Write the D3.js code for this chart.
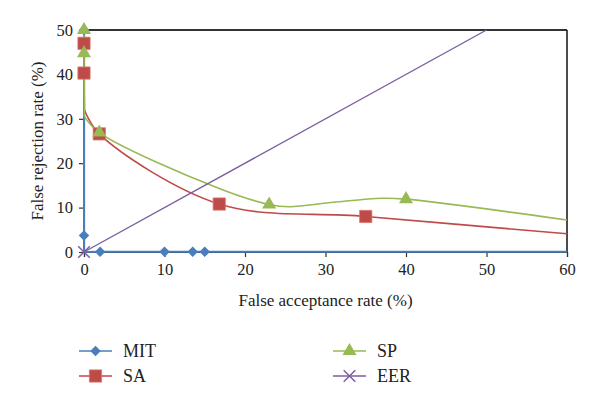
<!DOCTYPE html>
<html><head><meta charset="utf-8">
<script src="https://cdn.jsdelivr.net/npm/d3@7"></script>
<style>body{margin:0;background:#fff}svg{display:block}</style>
</head><body><svg id="c" width="600" height="405"></svg>
<script>
// ---- data ----
const xTicks = [0, 10, 20, 30, 40, 50, 60];
const yTicks = [0, 10, 20, 30, 40, 50];
const seriesNames = ["MIT", "SA", "SP", "EER"];

const mitX = [0, 0, 0, 2, 10, 13.5, 15, 60];
const mitY = [50, 3.7, 0, 0.05, 0.05, 0.05, 0.05, 0.05];
const mitMarked = [1, 1, 0, 1, 1, 1, 1, 0];

const saX = [0, 0, 0.05, 1.9, 16.8, 35, 60];
const saY = [47, 40.3, 32, 26.6, 10.8, 8.0, 4.1];
const saMarked = [1, 1, 0, 1, 1, 1, 0];

const spX = [0, 0, 0.05, 1.9, 16.8, 23, 25.5, 31, 37, 40, 60];
const spY = [50, 44.8, 30.5, 26.9, 14.3, 10.7, 10.2, 11.2, 12.1, 11.9, 7.2];
const spMarked = [1, 1, 0, 1, 0, 1, 0, 0, 0, 1, 0];

const eerX = [0, 50];
const eerY = [0, 50];
const eerMarked = [1, 0];

// ---- drawing ----
const svg = d3.select("#c");
const L = 84, R = 567, T = 30, B = 252;
const x = d3.scaleLinear().domain([0, 60]).range([L, R]);
const y = d3.scaleLinear().domain([0, 50]).range([B, T]);
const font = "'Liberation Serif', 'DejaVu Serif', serif";
const colors = {MIT: "#4a7ebb", SA: "#be4b48", SP: "#98b954", EER: "#7d5fa0"};

// frame top & right
svg.append("line").attr("x1", L).attr("x2", R).attr("y1", T).attr("y2", T).attr("stroke", "#333").attr("stroke-width", 2);
svg.append("line").attr("x1", R).attr("x2", R).attr("y1", T).attr("y2", B).attr("stroke", "#111").attr("stroke-width", 1.5);

// axes
const gx = svg.append("g").attr("transform", `translate(0,${B})`)
  .call(d3.axisBottom(x).tickValues(xTicks).tickSize(5).tickPadding(6));
const gy = svg.append("g").attr("transform", `translate(${L},0)`)
  .call(d3.axisLeft(y).tickValues(yTicks).tickSize(5).tickPadding(6));
[gx, gy].forEach(g => {
  g.select(".domain").attr("stroke", "#333").attr("stroke-width", 1.2);
  g.selectAll(".tick line").attr("stroke", "#333").attr("stroke-width", 1.2);
  g.selectAll(".tick text").attr("font-family", font).attr("font-size", 16.5).attr("fill", "#222");
});

svg.append("text").attr("x", (L + R) / 2).attr("y", 306).attr("text-anchor", "middle")
  .attr("font-family", font).attr("font-size", 17).attr("fill", "#222").text("False acceptance rate (%)");
svg.append("text").attr("transform", `translate(43,${(T + B) / 2}) rotate(-90)`).attr("text-anchor", "middle")
  .attr("font-family", font).attr("font-size", 17).attr("fill", "#222").text("False rejection rate (%)");

function pts(xs, ys, ms) { return xs.map((v, i) => ({x: v, y: ys[i], m: ms[i]})); }
const series = [
  {name: "MIT", data: pts(mitX, mitY, mitMarked), smooth: false, w: 2},
  {name: "SA", data: pts(saX, saY, saMarked), smooth: true, w: 1.6},
  {name: "SP", data: pts(spX, spY, spMarked), smooth: true, w: 1.6},
  {name: "EER", data: pts(eerX, eerY, eerMarked), smooth: false, w: 1.4}
];

const sym = {
  MIT: d3.symbol().type(d3.symbolDiamond2).size(70),
  SA: d3.symbol().type(d3.symbolSquare).size(150),
  SP: d3.symbol().type(d3.symbolTriangle).size(85),
  EER: d3.symbol().type(d3.symbolX).size(90)
};

const plot = svg.append("g");
const lin = d3.line().x(d => x(d.x)).y(d => y(d.y));
const smoothLine = d3.line().x(d => x(d.x)).y(d => y(d.y)).curve(d3.curveCatmullRom.alpha(0.5));
series.forEach(s => {
  if (s.smooth) {
    // vertical drop at x = 0 drawn straight, remaining part smoothed
    const split = s.data.findIndex(d => d.x > 0);
    const parts = [s.data.slice(0, split + 1), s.data.slice(split)];
    plot.append("path").attr("d", lin(parts[0]))
      .attr("fill", "none").attr("stroke", colors[s.name]).attr("stroke-width", s.w);
    plot.append("path").attr("d", smoothLine(parts[1]))
      .attr("fill", "none").attr("stroke", colors[s.name]).attr("stroke-width", s.w);
  } else {
    plot.append("path").attr("d", lin(s.data))
      .attr("fill", "none").attr("stroke", colors[s.name]).attr("stroke-width", s.w);
  }
});
function marker(g, name, cx, cy) {
  const p = g.append("path").attr("d", sym[name]()).attr("transform", `translate(${cx},${cy})`);
  if (name === "EER") p.attr("fill", "none").attr("stroke", colors[name]).attr("stroke-width", 1.5);
  else if (name === "SA") p.attr("fill", colors[name]).attr("stroke", "#d97a6e").attr("stroke-width", 0.8);
  else p.attr("fill", colors[name]);
}
series.forEach(s => {
  s.data.filter(d => d.m).forEach(d => marker(plot, s.name, x(d.x), y(d.y)));
});

// legend
const legPos = [[79, 351], [79, 376], [333, 351], [333, 376]];
seriesNames.forEach((n, i) => {
  const [lx, ly] = legPos[i];
  const g = svg.append("g");
  g.append("line").attr("x1", lx).attr("x2", lx + 33).attr("y1", ly).attr("y2", ly)
    .attr("stroke", colors[n]).attr("stroke-width", 1.6);
  marker(g, n, lx + 16.5, ly);
  g.append("text").attr("x", lx + 44).attr("y", ly + 6).attr("font-family", font)
    .attr("font-size", 18).attr("fill", "#222").text(n);
});
</script></body></html>
